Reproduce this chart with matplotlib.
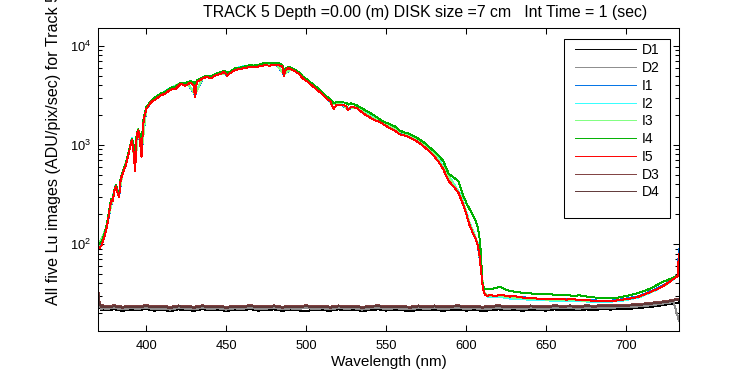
import numpy as np
import matplotlib
matplotlib.use('Agg')
import matplotlib.pyplot as plt
from matplotlib.patches import Rectangle

plt.rcParams['font.family'] = ['Liberation Sans', 'DejaVu Sans']
plt.rcParams['mathtext.fontset'] = 'custom'
plt.rcParams['mathtext.rm'] = 'Liberation Sans'
plt.rcParams['mathtext.it'] = 'Liberation Sans:italic'
plt.rcParams['mathtext.bf'] = 'Liberation Sans:bold'

# ---------------- text ----------------
title = "TRACK 5 Depth =0.00 (m) DISK size =7 cm   Int Time = 1 (sec)"
xlabel = "Wavelength (nm)"
ylabel = "All five Lu images (ADU/pix/sec) for Track 5"
series_names = ["D1", "D2", "I1", "I2", "I3", "I4", "I5", "D3", "D4"]
x_ticks = [400, 450, 500, 550, 600, 650, 700]

# ---------------- data ----------------
# fine wavelength grid (nm) for I4 and I5
wl_fine = [369.8, 371, 372, 373, 374, 375, 376, 377, 378, 379, 380, 381, 382, 383, 384, 385,
           386, 387, 388, 389, 390, 391, 392, 393, 394, 395, 396, 397, 398, 399, 400,
           403, 406, 409, 412, 415, 418.5, 421.5, 424.5, 427.5, 429.5, 430.5, 431.5, 434.5,
           437.5, 440.5, 443.5, 446.5, 448.5, 450.5, 452.5, 455.5, 458.5, 461.5, 464.5, 467.5, 470.5,
           474, 477, 480, 483, 485, 486, 487, 489, 492, 495, 498, 501, 504, 507, 510, 513, 515,
           517, 519, 522, 525, 526, 528,
           531.5, 534.5, 537.5, 540.5, 543.5, 546.5, 549.5, 552.5, 555.5, 558.5, 561.5, 564.5,
           567.5, 570.5, 573.5, 576.5, 579.5, 582.5, 585.5,
           589, 592, 595, 598, 600, 602, 604, 606, 607, 608, 609, 610, 611, 612, 613, 615, 618,
           621, 624, 627, 630, 634, 638, 642,
           646.5, 650.5, 654.5, 658.5, 662.5, 666.5, 670.5, 674.5, 678.5, 682.5, 686.5, 690.5,
           694.5, 698.5, 702.5,
           707, 711, 715, 719, 723, 726, 729, 731, 732, 732.9]

I5 = [90, 92, 97, 108, 122, 140, 170, 220, 275, 272, 340, 385, 330, 300, 450, 500,
      560, 610, 700, 820, 960, 1130, 850, 540, 1250, 1400, 1100, 760, 1600, 2000, 2300,
      2700, 2900, 3150, 3300, 3600, 3700, 4150, 3950, 4250, 4000, 3050, 4300, 4600,
      4850, 4700, 5050, 5200, 5450, 5000, 5300, 5700, 5800, 5950, 6100, 6050, 6200,
      6350, 6300, 6400, 6350, 6150, 4950, 5700, 5950, 5650, 5250, 4650, 4300, 3900, 3550, 3250, 2900, 2750,
      2300, 2550, 2550, 2450, 2230, 2420,
      2350, 2150, 1980, 1860, 1760, 1680, 1560, 1470, 1380, 1280, 1240, 1190,
      1120, 1050, 960, 870, 780, 680, 570,
      430, 380, 330, 250, 200, 155, 130, 110, 98, 82, 58, 40, 32, 30.5, 30, 30.6, 29.8,
      30.8, 30.2, 29.5, 29.8, 29.0, 28.6, 28.4,
      27.9, 28.2, 27.6, 27.9, 27.5, 27.8, 27.2, 27.3, 26.8, 26.5, 26.9, 26.6,
      27.0, 27.6, 28.2,
      29.2, 30.8, 32.8, 35.0, 37.6, 40.5, 44.0, 46.0, 47.5, 80]

I4 = [100, 102, 106, 115, 130, 150, 180, 230, 285, 285, 350, 395, 345, 320, 470, 520,
      580, 640, 730, 860, 1000, 1160, 1000, 800, 1300, 1430, 1250, 1000, 1700, 2100, 2400,
      2800, 3050, 3300, 3450, 3750, 3900, 4250, 4200, 4400, 4300, 3800, 4450, 4750,
      5000, 4950, 5200, 5400, 5600, 5350, 5500, 5900, 6000, 6200, 6350, 6300, 6450,
      6700, 6650, 6700, 6650, 6400, 5600, 5900, 6150, 5850, 5450, 4850, 4500, 4100, 3750, 3400, 3050, 2900,
      2650, 2700, 2700, 2650, 2550, 2620,
      2500, 2350, 2200, 2070, 1930, 1780, 1680, 1610, 1530, 1390, 1330, 1290,
      1220, 1140, 1060, 960, 870, 790, 690,
      510, 470, 430, 310, 260, 225, 195, 170, 150, 125, 85, 42, 36, 35, 35.5, 35.0, 35.8,
      37.0, 35.0, 33.8, 33.0, 32.4, 32.0, 31.5,
      31.2, 31.6, 30.8, 30.6, 30.9, 29.8, 30.4, 29.6, 29.2, 28.5, 28.8, 28.3,
      28.8, 29.6, 30.5,
      32.0, 33.5, 35.5, 38.5, 41.6, 43.5, 45.5, 47.0, 48.0, 60]

# medium wavelength grid (nm) for I1, I2, I3
wl_mid = [369.8, 375, 380, 381, 383, 385, 388, 391, 393, 395, 397, 400, 405, 410, 415,
          420.5, 425.5, 430.5, 435.5, 440.5, 445.5, 450.5, 455.5, 460.5, 465.5, 470.5,
          476, 481, 486, 491, 496, 501, 506, 511, 516, 521, 526,
          531.5, 536.5, 541.5, 546.5, 551.5, 556.5, 561.5, 566.5, 571.5, 576.5, 581.5, 586.5,
          592, 597, 602, 605, 607, 609, 611, 614, 620, 627, 637,
          647.5, 657.5, 667.5, 677.5, 687.5, 697.5,
          708, 718, 725, 730, 732, 732.9]

I1 = [92, 143, 345, 390, 305, 510, 715, 1150, 600, 1420, 820, 2330, 2900, 3260, 3670,
      4080, 4180, 3200, 4790, 4800, 5250, 5100, 5810, 6070, 6220, 6320,
      6480, 6530, 5100, 5870, 5150, 4390, 3720, 3210, 2570, 2600, 2290,
      2400, 2080, 1870, 1730, 1550, 1400, 1290, 1185, 1065, 910, 745, 555,
      398, 293, 162, 124, 100, 60, 32.5, 29.8, 30.1, 28.9, 28.9,
      27.6, 28.1, 27.3, 27.2, 26.5, 27.7,
      29.8, 34.9, 40.0, 45.5, 48.5, 88]

I2 = [93, 146, 352, 398, 312, 520, 728, 1170, 620, 1450, 840, 2380, 2960, 3320, 3740,
      4150, 4260, 3250, 4880, 4890, 5350, 5200, 5920, 6180, 6340, 6450,
      6600, 6650, 5200, 5980, 5250, 4470, 3800, 3280, 2620, 2650, 2330,
      2450, 2130, 1920, 1780, 1600, 1430, 1320, 1220, 1095, 935, 770, 575,
      410, 302, 165, 126, 102, 62, 32, 29.0, 29.4, 28.2, 27.6,
      27.0, 26.8, 26.6, 26.2, 26.0, 26.8,
      29.0, 34.0, 39.0, 45.0, 47.0, 75]

I3 = [95, 145, 348, 394, 308, 515, 720, 1160, 610, 1440, 830, 2360, 2930, 3290, 3700,
      4120, 4220, 3220, 4840, 4840, 5300, 5150, 5870, 6130, 6280, 6420,
      6560, 6600, 5150, 5920, 5200, 4430, 3760, 3240, 2600, 2630, 2310,
      2420, 2100, 1880, 1740, 1560, 1410, 1300, 1200, 1075, 915, 750, 560,
      400, 296, 163, 125, 101, 61, 32.5, 29.6, 30.0, 29.0, 28.2,
      27.6, 27.3, 27.1, 26.7, 26.5, 27.2,
      29.3, 34.2, 39.2, 45.0, 47.2, 78]

# dark-reading wavelength grid (nm)
wl_dark = [369.8, 370.8, 371.8, 372.8] + list(np.arange(375, 726, 5)) + [729.5, 732.9]

D1 = [27, 23.5, 21.5, 21.9,
      21.4, 22.0, 21.2, 21.8, 21.5, 22.1, 21.3, 21.7, 21.0, 21.9,
      21.6, 21.2, 22.0, 21.4, 21.8, 21.1, 21.7, 21.5, 22.0, 21.3,
      21.6, 21.9, 21.2, 21.7, 21.4, 21.0, 21.8, 21.5, 21.2, 21.9,
      21.4, 21.7, 21.1, 21.6, 21.9, 21.3, 21.8, 21.5, 21.0, 21.7,
      21.4, 21.9, 21.2, 21.6, 21.8, 21.3, 21.7, 21.1, 21.5, 21.9,
      21.4, 21.7, 21.2, 21.8, 21.5, 21.3, 21.9, 21.6, 21.8, 21.4,
      21.9, 21.6, 22.1, 21.8, 22.2, 22.0, 22.5, 22.8, 23.2, 23.8,
      24.5, 25.2, 25.8]

D2 = [29, 24, 22.0, 22.6,
      22.1, 22.7, 21.9, 22.5, 22.2, 22.8, 22.0, 22.4, 21.8, 22.6,
      22.3, 21.9, 22.7, 22.1, 22.5, 21.8, 22.4, 22.2, 22.8, 22.0,
      22.3, 22.6, 21.9, 22.4, 22.1, 22.7, 22.0, 22.5, 21.9, 22.6,
      22.2, 22.5, 21.8, 22.4, 22.7, 22.0, 22.5, 22.2, 21.9, 22.6,
      22.1, 22.6, 22.0, 22.4, 22.7, 22.1, 22.5, 21.9, 22.3, 22.7,
      22.2, 22.5, 22.0, 22.6, 22.3, 22.1, 22.7, 22.4, 22.6, 22.2,
      22.7, 22.4, 22.9, 22.6, 23.0, 22.9, 23.3, 23.6, 24.1, 24.7,
      25.3, 26.0, 16.8]

D3 = [36, 26, 23.8, 24.2,
      23.5, 24.1, 23.3, 23.9, 23.6, 24.2, 23.4, 23.8, 23.2, 24.0,
      23.7, 23.3, 24.1, 23.5, 23.9, 23.2, 23.8, 23.6, 24.2, 23.4,
      23.7, 24.0, 23.3, 23.8, 23.5, 24.1, 23.4, 23.9, 23.3, 24.0,
      23.6, 23.9, 23.2, 23.8, 24.1, 23.4, 23.9, 23.6, 23.3, 24.0,
      23.5, 24.0, 23.4, 23.8, 24.1, 23.5, 23.9, 23.3, 23.7, 24.1,
      23.6, 23.9, 23.4, 24.0, 23.7, 23.5, 24.1, 23.8, 24.0, 23.6,
      24.1, 23.8, 24.3, 24.0, 24.4, 24.3, 24.7, 25.0, 25.5, 26.0,
      26.6, 27.5, 28.0]

D4 = [33, 25, 23.2, 23.6,
      23.0, 23.5, 22.8, 23.4, 23.1, 23.6, 22.9, 23.3, 22.7, 23.5,
      23.2, 22.8, 23.6, 23.0, 23.4, 22.7, 23.3, 23.1, 23.7, 22.9,
      23.2, 23.5, 22.8, 23.3, 23.0, 23.6, 22.9, 23.4, 22.8, 23.5,
      23.1, 23.4, 22.7, 23.3, 23.6, 22.9, 23.4, 23.1, 22.8, 23.5,
      23.0, 23.5, 22.9, 23.3, 23.6, 23.0, 23.4, 22.8, 23.2, 23.6,
      23.1, 23.4, 22.9, 23.5, 23.2, 23.0, 23.6, 23.3, 23.5, 23.1,
      23.6, 23.3, 23.8, 23.5, 23.9, 23.8, 24.2, 24.5, 25.0, 25.5,
      26.1, 26.9, 27.3]

# ---------------- styling ----------------
colors = {"D1": "#000000", "D2": "#8c8c8c", "I1": "#0072e6", "I2": "#33ffff",
          "I3": "#80ff80", "I4": "#00b000", "I5": "#ff0000", "D3": "#804040",
          "D4": "#603838"}
series = {"D1": (wl_dark, D1), "D2": (wl_dark, D2), "I1": (wl_mid, I1),
          "I2": (wl_mid, I2), "I3": (wl_mid, I3), "I4": (wl_fine, I4),
          "I5": (wl_fine, I5), "D3": (wl_dark, D3), "D4": (wl_dark, D4)}

W, H = 750, 375
fig = plt.figure(figsize=(7.5, 3.75), dpi=100)
ax = fig.add_axes([98 / W, 44 / H, 581 / W, 303 / H])

handles = []
for name in series_names:
    x, y = series[name]
    assert len(x) == len(y), name
    ln, = ax.plot(x, y, color=colors[name], lw=0.7, antialiased=False, label=name)
    handles.append(ln)

ax.set_yscale('log')
ax.set_xlim(369.8, 732.9)
ax.set_ylim(13.26, 15090)
ax.set_xticks(x_ticks)
ax.tick_params(which='both', direction='in', top=True, right=True, width=0.75)
ax.tick_params(which='major', length=4.3, labelsize=9.3)
ax.tick_params(which='minor', length=2.9)
ax.tick_params(axis='x', pad=6.5)
ax.tick_params(axis='y', pad=5)
for sp in ax.spines.values():
    sp.set_linewidth(0.75)

leg = ax.legend(handles=handles, loc='upper left',
                bbox_to_anchor=(575 / W, 1 - 43.3 / H), bbox_transform=fig.transFigure,
                frameon=False, borderpad=0, borderaxespad=0, fontsize=10,
                handlelength=4.39, handletextpad=0.43, labelspacing=0.27)
fig.add_artist(Rectangle((564 / W, 1 - 218 / H), 106 / W, 179 / H, transform=fig.transFigure,
                         fill=False, ec='black', lw=0.75))

fig.text(424.7 / W, 1 - 12 / H, title, ha='center', va='center', fontsize=11.4)
fig.text(389 / W, 1 - 362 / H, xlabel, ha='center', va='center', fontsize=11)
fig.text(54 / W, 1 - 305 / H, ylabel, rotation=90, ha='center', va='bottom', fontsize=11.6)

fig.savefig('out.png', dpi=100)
